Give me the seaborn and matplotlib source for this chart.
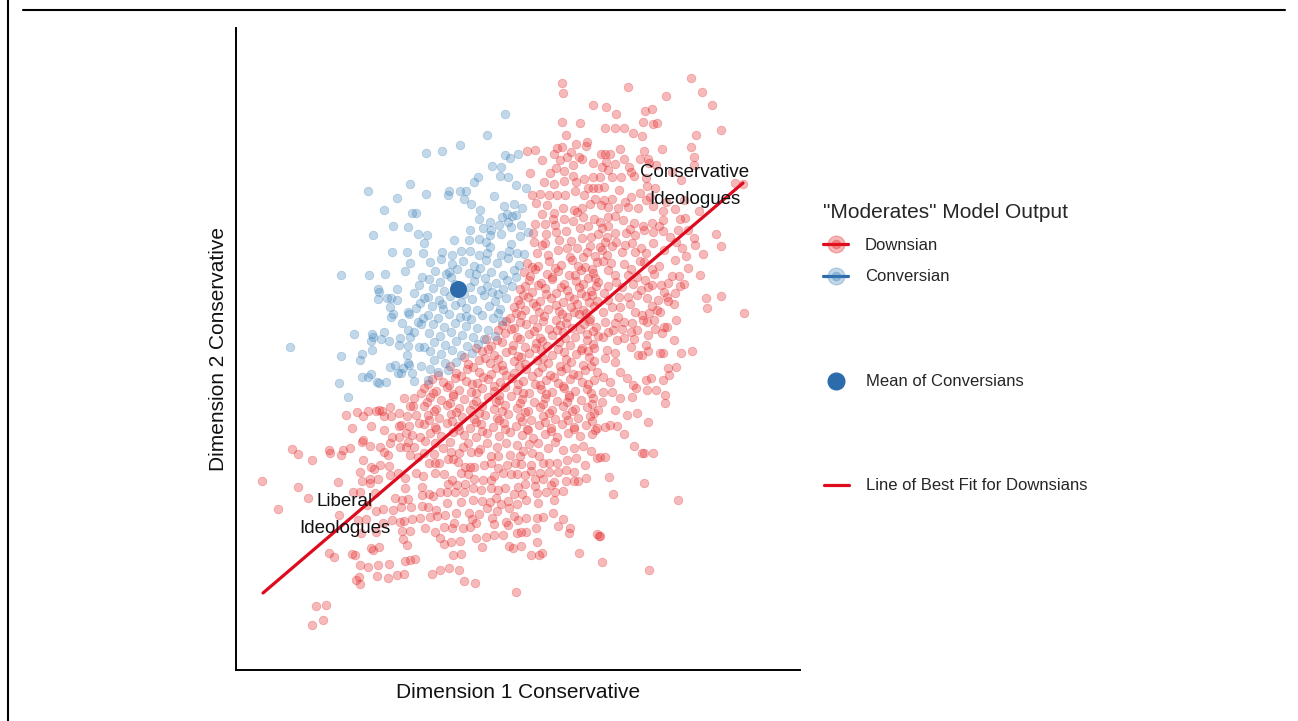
import pandas as pd
import matplotlib.pyplot as plt
import seaborn as sns
from matplotlib.lines import Line2D

# ideal points (arbitrary units: dim1 0-564, dim2 0-642)
conversian_upper = [
    (132, 479), (174, 486), (161, 472), (148, 460), (176, 457), (180, 457), (157, 444), (172, 443),
    (137, 435), (182, 436), (156, 418), (171, 418), (190, 517), (190, 476), (188, 427), (187, 417),
    (269, 556), (251, 535), (224, 525), (206, 519), (269, 515), (274, 512), (282, 516), (256, 504),
    (265, 503), (264, 494), (272, 493), (242, 493), (238, 488), (280, 485), (290, 482), (213, 479),
    (212, 475), (224, 479), (230, 479), (228, 471), (258, 474), (235, 466), (268, 464), (278, 466),
    (286, 462), (244, 460), (243, 451), (271, 456), (276, 454), (280, 455), (266, 453), (263, 445),
    (272, 448), (254, 448), (275, 443), (285, 445), (234, 440), (247, 442), (255, 440), (265, 436),
    (284, 434), (292, 438), (243, 431), (250, 428), (254, 435), (218, 430), (233, 430), (275, 426),
    (191, 435), (206, 418), (216, 415), (225, 419), (234, 419), (243, 415), (251, 417), (254, 423),
    (265, 415), (273, 419), (281, 417), (288, 416),
]
conversian_left = [
    (174, 407), (169, 399), (105, 395), (133, 395), (149, 396), (183, 385), (142, 381), (143, 378),
    (161, 381), (178, 377), (142, 371), (151, 372), (155, 372), (161, 370), (184, 367), (154, 363),
    (172, 358), (173, 356), (157, 356), (155, 353), (166, 347), (182, 348), (185, 346), (172, 340),
    (178, 338), (148, 338), (118, 336), (136, 336), (137, 333), (145, 331), (153, 329), (164, 332),
    (174, 333), (135, 329), (163, 325), (172, 324), (183, 323), (188, 323), (54, 323), (136, 320),
    (126, 316), (105, 314), (124, 310), (171, 315), (172, 307), (173, 305), (185, 304), (159, 305),
    (154, 303), (167, 302), (162, 297), (165, 297), (176, 297), (126, 293), (132, 293), (135, 296),
    (178, 289), (141, 288), (143, 287), (150, 288), (103, 287), (112, 273),
]
conversian_core = [
    (194, 408), (205, 411), (216, 406), (227, 409), (238, 404), (250, 410), (261, 407), (272, 412), (283, 405),
    (199, 399), (210, 396), (221, 401), (233, 397), (244, 402), (255, 398), (267, 395), (278, 400),
    (193, 391), (204, 388), (215, 393), (238, 389), (249, 392), (260, 387), (271, 390), (280, 393),
    (197, 382), (208, 379), (234, 383), (245, 380), (256, 378), (267, 381), (276, 384),
    (192, 373), (203, 370), (214, 374), (225, 368), (236, 371), (248, 375), (259, 369), (270, 372),
    (196, 364), (207, 361), (219, 365), (230, 362), (241, 360), (253, 364), (264, 361),
    (192, 355), (202, 352), (213, 356), (224, 353), (235, 351), (246, 355), (257, 352), (266, 349),
    (197, 346), (208, 343), (219, 347), (230, 344), (241, 342), (252, 340),
    (193, 337), (204, 334), (215, 338), (226, 335), (237, 333), (248, 331), (259, 334),
    (198, 328), (209, 325), (220, 329), (231, 324), (242, 326),
    (194, 319), (205, 316), (216, 320), (225, 315), (236, 317),
    (198, 310), (209, 307), (220, 308), (194, 301), (202, 298), (212, 300), (192, 290),
    (219, 386), (228, 376), (240, 396), (251, 384), (262, 376), (206, 366), (230, 354), (262, 357),
    (213, 398), (187, 352), (180, 362), (188, 372), (186, 393),
]

downsian_upper = [
    (326, 587), (327, 577), (357, 565), (370, 563), (326, 548), (344, 547), (369, 542), (330, 535),
    (291, 519), (299, 520), (321, 522), (326, 523), (340, 526), (350, 524), (351, 528), (365, 516),
    (369, 516), (331, 513), (324, 510), (343, 513), (346, 511), (320, 502), (294, 497), (314, 497),
    (328, 499), (337, 505), (348, 491), (357, 493), (364, 493), (366, 503), (328, 489), (318, 486),
    (340, 488), (352, 482), (357, 482), (362, 482), (368, 483), (296, 475), (304, 476), (313, 475),
    (321, 475), (329, 475), (339, 479), (348, 475), (359, 471), (300, 467), (311, 465), (318, 457),
    (327, 462), (338, 460), (346, 462), (354, 466), (365, 465), (372, 463), (317, 451), (328, 451),
    (337, 449), (347, 453), (358, 451), (364, 448), (299, 446), (309, 446), (319, 445), (330, 439),
    (344, 442), (355, 433), (366, 442), (297, 437), (310, 436), (323, 430), (335, 429), (346, 432),
    (362, 436), (371, 433), (298, 428), (309, 427), (322, 420), (331, 422), (341, 422), (354, 424),
    (364, 423), (301, 417), (312, 415), (334, 413), (347, 413), (359, 414), (371, 415),
    (306, 510), (318, 516), (335, 518), (357, 507), (308, 488), (337, 494), (306, 456), (352, 444),
    (320, 438), (341, 458), (306, 425), (351, 418),
]
downsian_top_right = [
    (455, 592), (392, 583), (466, 578), (430, 574), (476, 565), (409, 559), (416, 561), (380, 556),
    (407, 548), (417, 546), (421, 547), (379, 542), (388, 542), (397, 537), (406, 534), (485, 540),
    (460, 535), (384, 521), (408, 519), (426, 521), (455, 523), (458, 513), (374, 516), (370, 508),
    (379, 506), (393, 503), (404, 511), (412, 511), (413, 507), (458, 505), (376, 493), (385, 493),
    (398, 494), (410, 492), (499, 487), (507, 486), (383, 480), (411, 484), (419, 482), (395, 473),
    (404, 477), (414, 473), (376, 471), (382, 462), (392, 463), (402, 462), (417, 464), (427, 459),
    (439, 461), (427, 450), (444, 451), (449, 452), (463, 459), (372, 453), (379, 454), (387, 450),
    (398, 447), (407, 444), (416, 447), (379, 437), (390, 437), (399, 435), (408, 440), (417, 438),
    (427, 439), (442, 440), (480, 436), (458, 432), (369, 428), (380, 428), (389, 425), (396, 427),
    (417, 427), (440, 428), (485, 424), (459, 425), (446, 422), (386, 418), (399, 418), (410, 417),
    (467, 416),
    (372, 500), (388, 511), (395, 498), (420, 505), (436, 498), (445, 490), (368, 470), (389, 468),
    (410, 470), (430, 468), (448, 470), (372, 444), (394, 441), (423, 444), (434, 433), (452, 440),
    (366, 420), (376, 424), (405, 422), (428, 420), (450, 414),
]
downsian_right = [
    (464, 395), (470, 372), (485, 374), (471, 362), (508, 357), (439, 410), (444, 384), (436, 394),
    (443, 394), (432, 387), (423, 404), (416, 401), (408, 408), (404, 409), (388, 406), (375, 407),
    (367, 409), (379, 395), (392, 395), (401, 393), (409, 390), (416, 385), (412, 383), (428, 378),
    (431, 373), (432, 369), (439, 377), (397, 386), (386, 383), (372, 384), (368, 377), (383, 373),
    (392, 373), (401, 375), (411, 372), (422, 370), (376, 363), (384, 363), (399, 358), (406, 355),
    (413, 357), (421, 360), (424, 358), (367, 358), (407, 350), (411, 348), (388, 348), (369, 348),
    (379, 347), (431, 343), (428, 343), (419, 341), (426, 337), (377, 340), (386, 341), (401, 340),
    (381, 330), (388, 332), (398, 331), (367, 333), (410, 325), (445, 317), (456, 319), (424, 317),
    (427, 317), (412, 319), (402, 315), (406, 315), (395, 323), (371, 320), (379, 317), (369, 312),
    (379, 308), (432, 302), (440, 303), (433, 295), (384, 298), (415, 292), (427, 290), (410, 290),
    (391, 292), (397, 285), (400, 282), (411, 280), (420, 280), (429, 275), (429, 267), (374, 288),
    (367, 293), (367, 278), (376, 278), (384, 272), (396, 273), (366, 268), (379, 260), (391, 255),
    (401, 257), (412, 248), (369, 243), (374, 245), (381, 244), (388, 236), (398, 224), (406, 217),
    (408, 217), (417, 217), (364, 213), (369, 213), (373, 193), (408, 187), (377, 176), (442, 170),
    (364, 134), (413, 100),
    (372, 400), (395, 401), (418, 396), (452, 402), (380, 388), (405, 380), (425, 385), (448, 386),
    (372, 370), (394, 366), (416, 364), (438, 366), (382, 353), (396, 347), (418, 350), (440, 350),
    (372, 338), (395, 338), (412, 335), (438, 330),
]
downsian_lower = [
    (189, 229), (199, 227), (214, 228), (227, 223), (232, 227), (251, 227), (261, 223), (270, 227),
    (281, 225), (293, 226), (302, 227), (319, 228), (327, 220), (338, 222), (347, 224), (361, 212),
    (188, 217), (198, 216), (215, 218), (223, 217), (235, 218), (242, 218), (255, 214), (262, 214),
    (274, 215), (284, 214), (296, 217), (303, 214), (313, 207), (321, 207), (331, 210), (349, 205),
    (199, 207), (203, 207), (212, 211), (217, 211), (229, 203), (234, 203), (238, 203), (248, 205),
    (262, 202), (271, 205), (279, 207), (285, 206), (295, 205), (187, 194), (199, 197), (225, 197),
    (238, 191), (247, 190), (267, 197), (275, 196), (281, 196), (289, 195), (304, 197), (313, 198),
    (322, 198), (338, 198), (330, 189), (338, 189), (342, 189), (299, 191), (307, 191), (212, 186),
    (221, 185), (229, 186), (186, 183), (289, 186), (299, 184), (204, 178), (211, 178), (219, 178),
    (228, 178), (245, 180), (255, 182), (262, 180), (269, 182), (193, 176), (197, 174), (278, 176),
    (286, 176), (301, 177), (310, 178), (319, 178), (327, 179), (260, 172), (237, 170), (246, 169),
    (254, 168), (272, 169), (281, 166), (302, 167), (211, 167), (186, 164), (192, 163), (251, 162),
    (261, 159), (273, 162), (233, 157), (243, 156), (220, 157), (209, 155), (194, 153), (201, 154),
    (278, 154), (282, 150), (301, 152), (307, 153), (317, 157), (327, 151), (184, 152), (236, 151),
    (240, 147), (227, 142), (234, 143), (270, 148), (272, 145), (216, 142), (208, 143), (189, 142),
    (199, 138), (322, 144), (334, 142), (333, 137), (281, 137), (285, 138), (290, 138), (258, 135),
    (267, 135), (250, 133), (240, 132), (204, 132), (215, 128), (224, 129), (208, 126), (246, 123),
    (273, 124), (277, 122), (285, 124), (301, 128), (361, 136), (363, 134), (343, 117), (295, 115),
    (303, 115), (306, 117), (217, 115), (225, 116), (366, 108), (196, 96), (204, 100), (213, 102),
    (223, 100), (228, 89), (239, 87), (280, 78),
    (207, 222), (244, 221), (287, 219), (312, 222), (355, 219), (193, 207), (222, 208), (255, 207),
    (307, 207), (340, 212), (208, 196), (232, 196), (258, 194), (295, 199), (330, 200), (216, 190),
    (255, 190), (318, 188), (350, 192), (237, 182), (282, 183), (315, 185), (225, 168), (265, 166),
    (290, 170), (318, 170), (200, 160), (256, 152), (290, 152), (218, 147), (258, 146), (300, 142),
]
downsian_left = [
    (56, 221), (62, 216), (76, 210), (94, 217), (105, 215), (107, 220), (114, 222), (126, 228),
    (134, 224), (144, 223), (152, 215), (148, 218), (127, 210), (135, 203), (138, 201), (144, 205),
    (153, 204), (164, 223), (170, 223), (178, 223), (174, 215), (182, 213), (26, 189), (62, 183),
    (72, 172), (42, 161), (102, 188), (124, 198), (126, 189), (134, 191), (142, 191), (134, 187),
    (154, 195), (162, 197), (169, 192), (180, 197), (169, 182), (117, 178), (124, 178), (139, 177),
    (159, 172), (166, 170), (172, 171), (186, 175), (131, 165), (140, 159), (147, 161), (157, 160),
    (165, 163), (175, 163), (103, 155), (122, 150), (130, 151), (147, 147), (156, 150), (164, 148),
    (168, 149), (176, 151), (166, 139), (174, 139), (125, 137), (140, 138), (167, 131), (171, 125),
    (135, 122), (143, 123), (137, 120), (93, 117), (98, 113), (116, 116), (119, 115), (124, 105),
    (132, 103), (142, 105), (153, 106), (169, 109), (174, 110), (179, 111), (123, 93), (120, 90),
    (124, 86), (141, 94), (152, 92), (161, 95), (168, 96), (80, 64), (90, 65), (76, 45), (87, 50),
    (185, 277), (178, 272), (168, 272), (177, 264), (174, 264), (154, 263), (143, 260), (140, 259),
    (146, 259), (132, 259), (121, 258), (110, 255), (127, 254), (148, 254), (155, 254), (163, 257),
    (171, 254), (180, 255), (135, 244), (116, 242), (148, 240), (165, 245), (163, 244), (173, 244),
    (183, 247), (127, 230), (156, 233), (163, 233), (170, 237), (176, 235), (184, 233), (154, 227),
    (172, 228), (93, 220),
]
downsian_core = [
    (291, 407), (302, 404), (313, 409), (325, 405), (336, 410), (349, 403), (361, 408),
    (288, 398), (299, 401), (311, 396), (322, 399), (333, 395), (345, 400), (357, 397),
    (293, 390), (305, 387), (316, 391), (328, 386), (340, 389), (352, 392), (362, 388),
    (284, 381), (296, 378), (309, 382), (320, 377), (331, 380), (343, 383), (355, 379),
    (282, 370), (292, 373), (304, 369), (315, 372), (327, 368), (338, 371), (350, 374), (361, 369),
    (278, 363), (289, 360), (300, 364), (312, 361), (323, 359), (335, 363), (347, 360), (358, 364),
    (274, 352), (285, 355), (297, 351), (308, 354), (320, 350), (331, 353), (343, 356), (354, 351),
    (266, 345), (278, 342), (290, 346), (301, 343), (313, 341), (324, 345), (336, 342), (348, 346), (360, 343),
    (269, 337), (281, 333), (293, 336), (304, 332), (316, 335), (327, 338), (339, 333), (351, 336), (362, 334),
    (255, 324), (266, 328), (277, 325), (289, 323), (300, 327), (311, 324), (323, 328), (334, 325), (346, 322), (357, 326),
    (246, 319), (258, 315), (270, 318), (282, 314), (293, 317), (305, 320), (316, 315), (328, 318), (340, 316), (352, 319),
    (232, 306), (243, 310), (254, 307), (266, 305), (278, 309), (289, 306), (301, 310), (312, 307), (324, 304),
    (335, 308), (347, 305), (358, 309),
    (220, 297), (231, 301), (243, 298), (255, 296), (267, 300), (278, 297), (290, 301), (302, 298), (314, 295),
    (325, 299), (337, 296), (349, 300), (361, 298),
    (196, 291), (207, 288), (219, 292), (230, 289), (241, 287), (252, 291), (264, 288), (276, 292), (287, 289),
    (299, 286), (310, 290), (322, 287), (334, 291), (346, 288), (358, 290),
    (188, 282), (200, 279), (211, 283), (223, 280), (235, 278), (246, 282), (258, 279), (269, 283), (281, 280),
    (293, 277), (305, 281), (316, 278), (328, 282), (339, 279), (351, 281),
    (194, 273), (205, 270), (217, 274), (228, 271), (240, 269), (252, 273), (263, 270), (275, 274), (286, 271),
    (298, 268), (309, 272), (321, 269), (333, 273), (345, 270), (357, 272),
    (188, 264), (200, 261), (211, 265), (223, 262), (234, 260), (246, 264), (258, 261), (269, 265), (281, 262),
    (292, 259), (304, 263), (316, 260), (327, 264), (339, 261), (351, 263), (362, 260),
    (192, 255), (203, 252), (215, 256), (226, 253), (238, 251), (249, 255), (261, 252), (272, 256), (284, 253),
    (295, 250), (307, 254), (319, 251), (330, 255), (342, 252), (354, 254),
    (188, 246), (199, 243), (211, 247), (222, 244), (234, 242), (245, 246), (257, 243), (268, 247), (280, 244),
    (291, 241), (303, 245), (315, 242), (326, 246), (338, 243), (350, 245), (361, 242),
    (194, 237), (205, 234), (217, 238), (228, 235), (240, 233), (251, 237), (263, 234), (274, 238), (286, 235),
    (297, 232), (309, 236), (321, 233), (332, 237), (344, 234), (356, 236),
]
downsian_core_between = [
    (296, 403), (319, 402), (342, 404), (356, 401), (294, 394), (316, 393), (339, 395), (359, 392),
    (289, 384), (302, 385), (325, 383), (347, 386), (360, 384), (287, 375), (310, 376), (333, 374),
    (345, 377), (356, 375), (284, 366), (297, 367), (320, 365), (341, 366), (353, 368), (280, 357),
    (303, 358), (326, 356), (338, 358), (350, 357), (270, 349), (284, 348), (307, 349), (330, 347),
    (353, 349), (262, 340), (275, 341), (298, 339), (321, 340), (344, 341), (357, 339), (250, 331),
    (261, 330), (284, 331), (306, 329), (329, 332), (351, 330), (240, 322), (252, 321), (276, 320),
    (299, 322), (322, 321), (345, 320), (358, 322), (228, 313), (249, 312), (262, 311), (285, 313),
    (307, 312), (330, 311), (353, 313), (214, 304), (237, 303), (260, 302), (283, 304), (306, 303),
    (330, 302), (355, 304), (202, 295), (225, 294), (247, 293), (270, 295), (296, 294), (318, 293),
    (342, 295), (192, 286), (213, 285), (236, 286), (258, 284), (282, 286), (304, 285), (327, 284),
    (352, 286), (197, 277), (217, 276), (240, 277), (263, 275), (287, 277), (310, 276), (333, 275),
    (355, 277), (191, 268), (214, 267), (237, 266), (260, 268), (284, 267), (307, 266), (331, 268),
    (356, 266), (198, 259), (220, 258), (243, 257), (266, 259), (289, 258), (313, 257), (336, 259),
    (358, 257), (193, 250), (216, 249), (240, 248), (263, 250), (286, 249), (309, 248), (332, 250),
    (356, 249), (200, 241), (223, 240), (246, 239), (269, 241), (292, 240), (315, 239), (338, 241),
    (359, 240),
]

conversian_mean = (222, 381)
fit_dim1 = [27, 507]
fit_dim2 = [77, 487]

red = "#E41A1C"
blue = "#377EB8"
line_red = "#DE0A1E"
mean_blue = "#2C6BAC"

downsian = (downsian_upper + downsian_top_right + downsian_right + downsian_lower
            + downsian_left + downsian_core + downsian_core_between)
conversian = conversian_upper + conversian_left + conversian_core
df = pd.DataFrame(downsian + conversian, columns=["dim1", "dim2"])
df["group"] = ["Downsian"] * len(downsian) + ["Conversian"] * len(conversian)

sns.set_style("white")
plt.rcParams["font.family"] = ["Liberation Sans", "DejaVu Sans"]

fig = plt.figure(figsize=(12.98, 7.21), dpi=100)
ax = fig.add_axes([236 / 1298, 51 / 721, 564 / 1298, 642 / 721])

for grp, col in [("Downsian", red), ("Conversian", blue)]:
    sub = df[df["group"] == grp]
    sns.scatterplot(data=sub, x="dim1", y="dim2", color=col, edgecolor=col, linewidth=0.6,
                    alpha=0.3, s=38, legend=False, ax=ax)

sns.scatterplot(x=[conversian_mean[0]], y=[conversian_mean[1]], color=mean_blue, s=150,
                linewidth=0, legend=False, ax=ax)
sns.lineplot(x=fit_dim1, y=fit_dim2, color=line_red, lw=2.3, ax=ax)

ax.text(459, 484, "Conservative\nIdeologues", ha="center", va="center", fontsize=13.5,
        linespacing=1.8, color="#111111")
ax.text(109, 155, "Liberal\nIdeologues", ha="center", va="center", fontsize=13.5,
        linespacing=1.8, color="#111111")

ax.set_xlim(0, 564)
ax.set_ylim(0, 642)
ax.set_xticks([])
ax.set_yticks([])
sns.despine(ax=ax)
for side in ["left", "bottom"]:
    ax.spines[side].set_color("black")
    ax.spines[side].set_linewidth(1.4)
ax.set_xlabel("Dimension 1 Conservative", fontsize=15, labelpad=9, color="#111111")
ax.set_ylabel("Dimension 2 Conservative", fontsize=15, labelpad=6, color="#111111")

# legends
k_down = (Line2D([], [], color=line_red, lw=2.3),
          Line2D([], [], ls="", marker="o", ms=12, color=red, alpha=0.3),
          Line2D([], [], ls="", marker="o", ms=6, color=red, alpha=0.3))
k_conv = (Line2D([], [], color=mean_blue, lw=2.3),
          Line2D([], [], ls="", marker="o", ms=12, color=blue, alpha=0.3),
          Line2D([], [], ls="", marker="o", ms=6, color=blue, alpha=0.3))
common = dict(frameon=False, fontsize=12, handlelength=1.5, handletextpad=1.0,
              borderpad=0, borderaxespad=0)
fig.legend(handles=[k_down, k_conv], labels=["Downsian", "Conversian"],
           title='"Moderates" Model Output', title_fontsize=15, alignment="left",
           loc="upper left", bbox_to_anchor=(823 / 1298, 1 - 203 / 721), labelspacing=0.97, **common)
fig.legend(handles=[Line2D([], [], ls="", marker="o", ms=12, color=mean_blue)],
           labels=["Mean of Conversians"], loc="center left",
           bbox_to_anchor=(824 / 1298, 1 - 382 / 721), **common)
fig.legend(handles=[Line2D([], [], color=line_red, lw=2.3)],
           labels=["Line of Best Fit for Downsians"], loc="center left",
           bbox_to_anchor=(824 / 1298, 1 - 486 / 721), **common)

# page frame lines from the original screenshot
fig.add_artist(Line2D([23 / 1298, 1285 / 1298], [1 - 10 / 721, 1 - 10 / 721],
                      transform=fig.transFigure, color="black", lw=1.5))
fig.add_artist(Line2D([8 / 1298, 8 / 1298], [0, 1], transform=fig.transFigure,
                      color="black", lw=1.5))

fig.savefig("out.png", dpi=100)
